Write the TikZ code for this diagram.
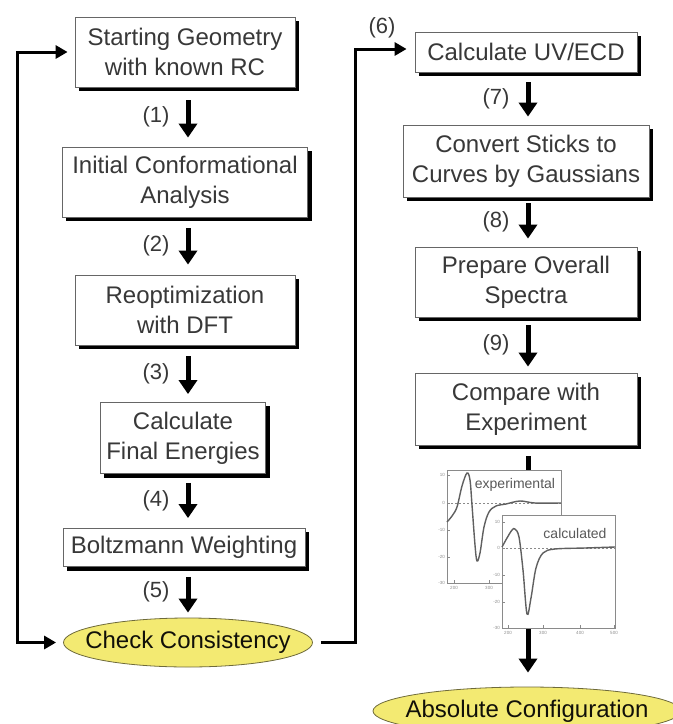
\documentclass[tikz,border=0pt]{standalone}
\usepackage{fontspec}
\setmainfont{Liberation Sans}
\usetikzlibrary{arrows.meta,shapes.geometric,backgrounds}
\definecolor{txt}{HTML}{383838}
\definecolor{ylw}{HTML}{F3EA72}
\definecolor{ylwline}{HTML}{6E6A3A}
\definecolor{plotgray}{HTML}{8A8A8A}
\definecolor{curvegray}{HTML}{606060}
\begin{document}
\begin{tikzpicture}[x=1pt,y=-1pt,
  stepbox/.style={draw=black!60, line width=0.8pt, fill=white, text=txt,
    font=\fontsize{24}{30}\selectfont, align=center, inner sep=0pt},
  shadowfill/.style={fill=black},
  ovalbox/.style={ellipse, draw=ylwline, line width=0.8pt, fill=ylw, text=black!85!ylwline,
    font=\fontsize{24}{30}\selectfont, inner xsep=-30pt, inner ysep=0pt},
  bigarrow/.style={line width=5pt, -{Triangle[width=18pt,length=14pt]}},
  looparrow/.style={line width=3pt, -{Triangle[width=13pt,length=12pt]}},
  steplabel/.style={text=txt, font=\fontsize{22}{26}\selectfont, inner sep=0pt},
  frame/.style={draw=plotgray, line width=0.9pt, fill=white},
  zeroline/.style={draw=plotgray, line width=0.7pt, dash pattern=on 2pt off 2pt},
  curve/.style={draw=curvegray, line width=1.4pt},
  plotlabel/.style={text=black!65, font=\fontsize{14}{16}\selectfont, inner sep=0pt},
  ticklabel/.style={text=black!45, font=\fontsize{4.5}{5}\selectfont, inner sep=0pt}
]
\useasboundingbox (0,0) rectangle (673,724);
\clip (0,0) rectangle (673,724);

% ---- left column ----
\node[stepbox, minimum width=220pt, minimum height=70pt] (b1) at (185,52) {Starting Geometry\\with known RC};
\node[stepbox, minimum width=245pt, minimum height=70pt] (b2) at (185,182) {Initial Conformational\\Analysis};
\node[stepbox, minimum width=220pt, minimum height=70pt] (b3) at (185,310) {Reoptimization\\with DFT};
\node[stepbox, minimum width=165pt, minimum height=71pt] (b4) at (183,438) {Calculate\\Final Energies};
\node[stepbox, minimum width=242pt, minimum height=38pt] (b5) at (184,547.5) {Boltzmann Weighting};
\node[ovalbox, minimum width=249pt, minimum height=49pt] (c1) at (188,642.5) {Check Consistency};

% ---- right column ----
\node[stepbox, minimum width=222pt, minimum height=40pt] (b6) at (526,52) {Calculate UV/ECD};
\node[stepbox, minimum width=246pt, minimum height=72pt] (b7) at (526,161) {Convert Sticks to\\Curves by Gaussians};
\node[stepbox, minimum width=222pt, minimum height=70pt] (b8) at (526,282) {Prepare Overall\\Spectra};
\node[stepbox, minimum width=222pt, minimum height=72pt] (b9) at (526,409) {Compare with\\Experiment};
\node[ovalbox, minimum width=308pt, minimum height=48pt] (c2) at (527,711) {Absolute Configuration};

% ---- box shadows ----
\begin{pgfonlayer}{background}
\foreach \n in {b1,b2,b3,b4,b5,b6,b7,b8,b9}
  \fill[shadowfill] ([xshift=4pt,yshift=-4pt]\n.south west) rectangle ([xshift=4pt,yshift=-4pt]\n.north east);
\end{pgfonlayer}

% ---- step arrows ----
\draw[bigarrow, shorten <=13pt, shorten >=9pt] ([xshift=3pt]b1.south) -- ([xshift=3pt]b1.south |- b2.north)
  node[steplabel, midway, left=16pt] (l1) {(1)};
\draw[bigarrow, shorten <=11pt, shorten >=10pt] ([xshift=3pt]b2.south) -- ([xshift=3pt]b2.south |- b3.north)
  node[steplabel, midway, left=16pt] (l2) {(2)};
\draw[bigarrow, shorten <=11pt, shorten >=8pt] ([xshift=3pt]b3.south) -- ([xshift=3pt]b3.south |- b4.north)
  node[steplabel, midway, left=16pt] (l3) {(3)};
\draw[bigarrow, shorten <=9pt, shorten >=10pt] ([xshift=5pt]b4.south) -- ([xshift=5pt]b4.south |- b5.north)
  node[steplabel, midway, left=16pt] (l4) {(4)};
\draw[bigarrow, shorten <=10pt, shorten >=5pt] ([xshift=4pt]b5.south) -- ([xshift=4pt]b5.south |- c1.north)
  node[steplabel, midway, left=16pt] (l5) {(5)};

\draw[bigarrow, shorten <=10pt, shorten >=8pt] ([xshift=2pt]b6.south) -- ([xshift=2pt]b6.south |- b7.north)
  node[steplabel, midway, left=16pt] (l7) {(7)};
\draw[bigarrow, shorten <=6pt, shorten >=8pt] ([xshift=2pt]b7.south) -- ([xshift=2pt]b7.south |- b8.north)
  node[steplabel, midway, left=16pt] (l8) {(8)};
\draw[bigarrow, shorten <=8pt, shorten >=6pt] ([xshift=2pt]b8.south) -- ([xshift=2pt]b8.south |- b9.north)
  node[steplabel, midway, left=16pt] (l9) {(9)};
\draw[bigarrow, shorten <=11pt, shorten >=14pt] ([xshift=2pt]b9.south) -- ([xshift=2pt]b9.south |- c2.north);

% ---- loop connectors ----
\coordinate (lx) at (17,0);
\coordinate (rx) at (355,0);
\draw[looparrow, {Triangle[width=13pt,length=12pt]}-{Triangle[width=13pt,length=12pt]}, shorten <=7pt, shorten >=7pt]
  (c1.west) -- (c1.west -| lx) |- (b1.west);
\draw[looparrow, shorten >=8pt] ([xshift=8pt]c1.east) -- (c1.east -| rx) |- ([yshift=3pt]b6.west);
\node[steplabel] (l6) at (382,28) {(6)};

% ---- spectra ----
% experimental
\draw[frame] (447,470) rectangle (561,583);
\draw[zeroline] (447,503) -- (561,503);
\draw[curve] plot[smooth, tension=0.55] coordinates {(447,522) (452,516) (457,507) (462,486) (467,473) (470,480) (472,505) (475,545) (477,561) (480,553) (484,527) (489,512) (496,506) (506,504) (520,501) (535,503) (561,503)};
\node[plotlabel] (t1) at (515,485) {experimental};
\foreach \yy/\tl in {475/10,503/0,530/-10,557/-20,583/-30}
  {\draw[plotgray, line width=0.6pt] (447,\yy) -- (450,\yy); \node[ticklabel, anchor=east] at (445,\yy) {\tl};}
\foreach \xx/\tl in {454/200,489/300}
  {\draw[plotgray, line width=0.6pt] (\xx,583) -- (\xx,580); \node[ticklabel, anchor=north] at (\xx,586) {\tl};}

% calculated
\draw[frame] (502,515) rectangle (615,628);
\draw[zeroline] (502,548) -- (615,548);
\draw[curve] plot[smooth, tension=0.55] coordinates {(502,547) (507,538) (512,530) (515,529) (519,537) (523,570) (527,614) (531,598) (536,568) (543,553) (555,549) (585,548) (615,547)};
\node[plotlabel] (t2) at (575,533) {calculated};
\foreach \yy/\tl in {522/10,548/0,575/-10,602/-20,628/-30}
  {\draw[plotgray, line width=0.6pt] (502,\yy) -- (505,\yy); \node[ticklabel, anchor=east] at (500,\yy) {\tl};}
\foreach \xx/\tl in {508/200,543/300,580/400,614/500}
  {\draw[plotgray, line width=0.6pt] (\xx,628) -- (\xx,625); \node[ticklabel, anchor=north] at (\xx,631) {\tl};}

\end{tikzpicture}
\end{document}
